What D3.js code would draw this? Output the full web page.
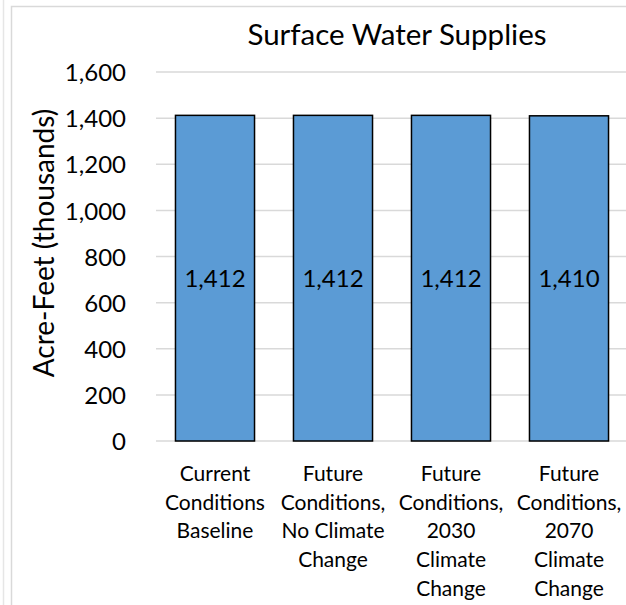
<!DOCTYPE html>
<html>
<head>
<meta charset="utf-8">
<script src="https://cdn.jsdelivr.net/npm/d3@7"></script>
<style>
  body { margin: 0; background: #fff; }
  svg text { font-family: Lato, "Open Sans", sans-serif; fill: #000; }
</style>
</head>
<body>
<svg width="626" height="605"></svg>
<script>
// data
var categories = [
  ["Current", "Conditions", "Baseline"],
  ["Future", "Conditions,", "No Climate", "Change"],
  ["Future", "Conditions,", "2030", "Climate", "Change"],
  ["Future", "Conditions,", "2070", "Climate", "Change"]
];
var values = [1412, 1412, 1412, 1410];
var yTicks = [0, 200, 400, 600, 800, 1000, 1200, 1400, 1600];

var svg = d3.select("svg"),
    width = +svg.attr("width"),
    height = +svg.attr("height");

var margin = {left: 156, right: -2, top: 72, bottom: 164};

// chart frame
svg.append("line")
   .attr("x1", 3.5).attr("x2", 3.5).attr("y1", 0).attr("y2", height)
   .attr("stroke", "#e6e6e6").attr("stroke-width", 1.5);
svg.append("rect")
   .attr("x", 11.5).attr("y", 6.5)
   .attr("width", width).attr("height", height)
   .attr("fill", "none")
   .attr("stroke", "#d9d9d9").attr("stroke-width", 1.5);

var x = d3.scaleBand()
          .domain(d3.range(values.length))
          .range([margin.left, width - margin.right])
          .paddingInner(0.33)
          .paddingOuter(0.165);

var y = d3.scaleLinear()
          .domain([0, 1600])
          .range([height - margin.bottom, margin.top]);

// gridlines
svg.append("g").selectAll("line")
   .data(yTicks)
   .enter().append("line")
   .attr("x1", margin.left)
   .attr("x2", width)
   .attr("y1", function(d) { return y(d); })
   .attr("y2", function(d) { return y(d); })
   .attr("stroke", "#d9d9d9")
   .attr("stroke-width", 1.5);

// y tick labels
var yAxis = svg.append("g")
   .attr("transform", "translate(" + (margin.left - 30) + ",0)")
   .call(d3.axisLeft(y).tickValues(yTicks).tickSize(0).tickPadding(0)
           .tickFormat(d3.format(",")));
yAxis.select(".domain").remove();
yAxis.selectAll("text")
   .style("font-size", "24px")
   .attr("dy", "0.36em");

// bars
svg.append("g").selectAll("rect")
   .data(values)
   .enter().append("rect")
   .attr("x", function(d, i) { return x(i); })
   .attr("y", function(d) { return y(d); })
   .attr("width", x.bandwidth())
   .attr("height", function(d) { return y(0) - y(d); })
   .attr("fill", "#5b9bd5")
   .attr("stroke", "#000")
   .attr("stroke-width", 1.5);

// bar labels
svg.append("g").selectAll("text")
   .data(values)
   .enter().append("text")
   .attr("x", function(d, i) { return x(i) + x.bandwidth() / 2; })
   .attr("y", function(d) { return (y(d) + y(0)) / 2; })
   .attr("dy", "0.36em")
   .attr("text-anchor", "middle")
   .style("font-size", "24px")
   .text(function(d) { return d3.format(",")(d); });

// category labels
var cat = svg.append("g").selectAll("text")
   .data(categories)
   .enter().append("text")
   .attr("text-anchor", "middle")
   .style("font-size", "21px")
   .attr("transform", function(d, i) {
       return "translate(" + (x(i) + x.bandwidth() / 2) + "," + (y(0) + 40) + ")";
   });
cat.selectAll("tspan")
   .data(function(d) { return d; })
   .enter().append("tspan")
   .attr("x", 0)
   .attr("y", function(d, i) { return i * 28.7; })
   .text(function(d) { return d; });

// y axis title
svg.append("text")
   .attr("transform", "translate(54,243) rotate(-90)")
   .attr("text-anchor", "middle")
   .style("font-size", "28px")
   .text("Acre-Feet (thousands)");

// chart title
svg.append("text")
   .attr("x", 397)
   .attr("y", 45)
   .attr("text-anchor", "middle")
   .style("font-size", "29.5px")
   .text("Surface Water Supplies");
</script>
</body>
</html>
